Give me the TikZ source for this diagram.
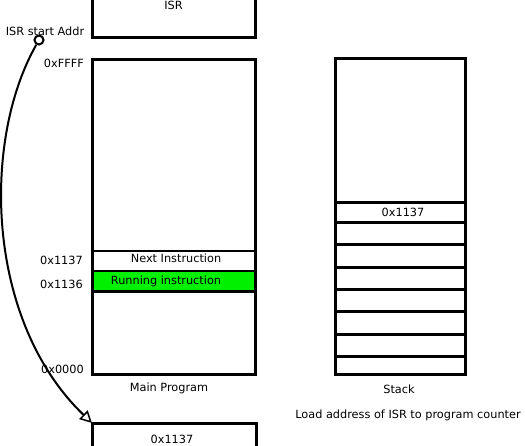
\documentclass[tikz,border=0pt]{standalone}
\usepackage{fontspec}
\setmainfont{DejaVu Sans}
\usetikzlibrary{arrows.meta}
\definecolor{rungreen}{RGB}{0,240,0}
\begin{document}
\begin{tikzpicture}[x=1pt,y=-1pt,
  box/.style={draw, line width=3pt, inner sep=0pt, outer sep=0pt},
  lbl/.style={inner sep=0pt, font=\fontsize{11.3}{13}\selectfont},
  rowline/.style={line width=3pt},
  conn/.style={line width=2pt, -{Triangle[open, length=12pt, width=12pt, line width=1.5pt]}}
]
\useasboundingbox (0,0) rectangle (525,445);
\clip (0,0) rectangle (525,445);
% boxes
\node[box, minimum width=163pt, minimum height=77pt] (isr) at (173.5,-1.5) {};
\node[lbl] (isrt) at (173.5,5) {ISR};
\fill[rungreen] (92,271) rectangle (255,291);
\node[box, minimum width=163pt, minimum height=315pt] (main) at (173.5,216.5) {};
\node[box, minimum width=164pt, minimum height=77pt] (pc) at (174,461.5) {};
\node[lbl] (pct) at (172,439) {0x1137};
\node[box, minimum width=130pt, minimum height=316pt] (stack) at (400,216) {};
% main program rows
\draw[line width=2.5pt] (92,251) -- (255,251);
\draw[line width=2.5pt] (92,271) -- (255,271);
\draw[rowline] (92,291) -- (255,291);
\node[lbl] (next) at (176,258) {Next Instruction};
\node[lbl] (run) at (166,281.5) {Running instruction};
% stack rows
\foreach \yy in {202,222,244.5,267,289,311.5,334,356}{
  \draw[rowline] (335,\yy) -- (465,\yy);
}
\node[lbl] (st1137) at (403,212.5) {0x1137};
% address labels
\node[lbl, anchor=east] (affff) at (84,63) {0xFFFF};
\node[lbl, anchor=east] (a1137) at (83,260) {0x1137};
\node[lbl, anchor=east] (a1136) at (83,284) {0x1136};
\node[lbl, anchor=east] (a0000) at (84,369) {0x0000};
\node[lbl] (isrsa) at (45,31) {ISR start Addr};
% captions
\node[lbl] (mainlbl) at (169,388) {Main Program};
\node[lbl] (stacklbl) at (399,389) {Stack};
\node[lbl] (load) at (408,415) {Load address of ISR to program counter};
% connector
\node[draw, circle, line width=2pt, minimum size=9pt, inner sep=0pt, fill=white] (pt) at (39,40) {};
\draw[conn] (pt) .. controls (-18,140) and (-15,320) .. (pc.north west);
\end{tikzpicture}
\end{document}
